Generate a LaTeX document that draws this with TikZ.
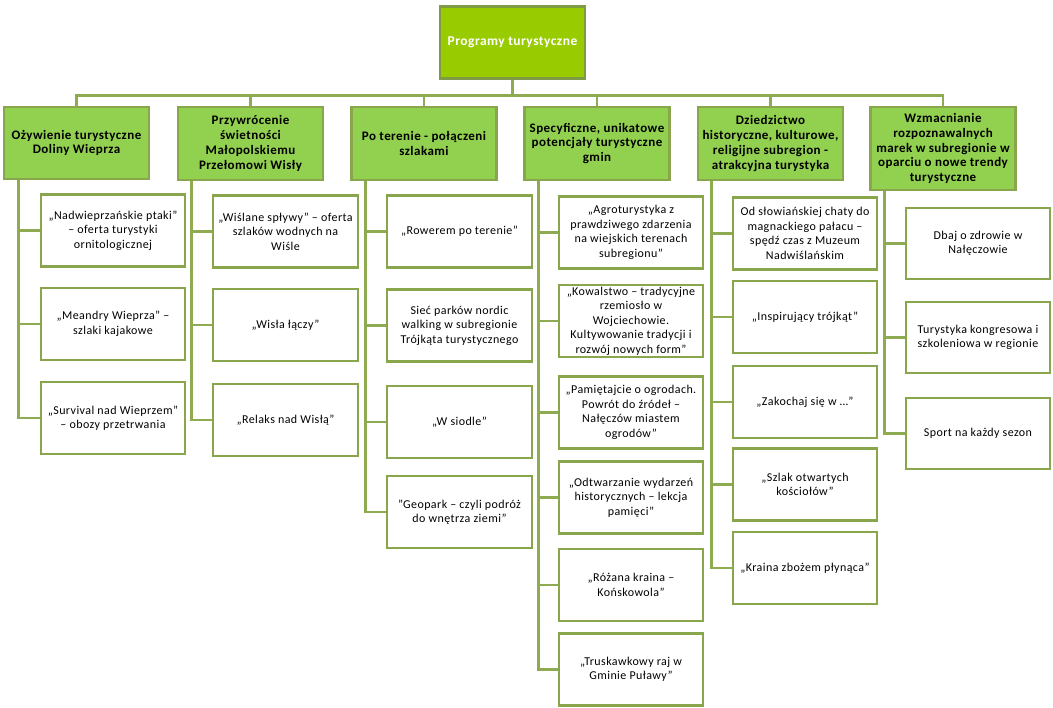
\documentclass[tikz,border=0pt]{standalone}
\usepackage{fontspec}
\setmainfont{Carlito}[LetterSpace=3.5]
\definecolor{rootfill}{HTML}{99CC00}
\definecolor{catfill}{HTML}{92D050}
\definecolor{bordc}{HTML}{8AA64C}
\definecolor{rootbord}{HTML}{7F9B45}
\definecolor{linec}{HTML}{8FAB52}
\tikzset{
  rootbox/.style={draw=rootbord, fill=rootfill, line width=2.8pt, text=white,
    font=\bfseries\fontsize{13.5}{15}\selectfont, minimum width=145pt, minimum height=72pt, inner sep=2pt, align=center},
  catbox/.style={draw=bordc, fill=catfill, line width=2.8pt, text=black,
    font=\bfseries\fontsize{13}{14.8}\selectfont, minimum width=145pt, minimum height=73pt, inner sep=1pt, align=center},
  itembox/.style={draw=bordc, fill=white, line width=2.8pt, text=black,
    font=\fontsize{12}{14.5}\selectfont, minimum width=144pt, minimum height=72pt, inner sep=1pt, align=center},
  conn/.style={draw=linec, line width=2.8pt}
}
\begin{document}
\begin{tikzpicture}[x=1pt,y=-1pt]
\useasboundingbox (0,0) rectangle (1053,708);
% root
\node[rootbox] (root) at (512.5,42.5) {Programy turystyczne};
% categories
\node[catbox, minimum height=72pt] (k1) at (76.5,143) {Ożywienie turystyczne\\Doliny Wieprza};
\node[catbox] (k2) at (250.5,143.5) {Przywrócenie\\świetności\\Małopolskiemu\\Przełomowi Wisły};
\node[catbox] (k3) at (424,143.5) {Po terenie - połączeni\\szlakami};
\node[catbox] (k4) at (597,143.5) {Specyficzne, unikatowe\\potencjały turystyczne\\gmin};
\node[catbox] (k5) at (770.5,143.5) {Dziedzictwo\\historyczne, kulturowe,\\religijne subregion -\\atrakcyjna turystyka};
\node[catbox, minimum height=83pt] (k6) at (943,148.5) {Wzmacnianie\\rozpoznawalnych\\marek w subregionie w\\oparciu o nowe trendy\\turystyczne};
\foreach \k in {k1,k2,k3,k4,k5,k6}{
  \draw[conn] (root.south) -- ++(0,16) -| (\k.north);
}
% column 1
\node[itembox] (a1) at (113,230.5) {„Nadwieprzańskie ptaki”\\– oferta turystyki\\ornitologicznej};
\node[itembox] (a2) at (113,324) {„Meandry Wieprza” –\\szlaki kajakowe};
\node[itembox] (a3) at (113,418) {„Survival nad Wieprzem”\\– obozy przetrwania};
% column 2
\node[itembox, minimum width=145pt] (b1) at (285.5,231.5) {„Wiślane spływy” – oferta\\szlaków wodnych na\\Wiśle};
\node[itembox, minimum width=145pt] (b2) at (285.5,325) {„Wisła łączy”};
\node[itembox, minimum width=145pt] (b3) at (285.5,420) {„Relaks nad Wisłą”};
% column 3
\node[itembox, minimum width=145pt] (c1) at (459.5,231.5) {„Rowerem po terenie”};
\node[itembox, minimum width=145pt] (c2) at (459.5,325.5) {Sieć parków nordic\\walking w subregionie\\Trójkąta turystycznego};
\node[itembox, minimum width=145pt] (c3) at (459.5,422) {„W siodle”};
\node[itembox, minimum width=145pt] (c4) at (459.5,512) {"Geopark – czyli podróż\\do wnętrza ziemi"};
% column 4
\node[itembox] (d1) at (631,232.5) {„Agroturystyka z\\prawdziwego zdarzenia\\na wiejskich terenach\\subregionu”};
\node[itembox] (d2) at (631,321) {„Kowalstwo – tradycyjne\\rzemiosło w\\Wojciechowie.\\Kultywowanie tradycji i\\rozwój nowych form”};
\node[itembox] (d3) at (631,412.5) {„Pamiętajcie o ogrodach.\\Powrót do źródeł –\\Nałęczów miastem\\ogrodów”};
\node[itembox] (d4) at (631,497.5) {„Odtwarzanie wydarzeń\\historycznych – lekcja\\pamięci”};
\node[itembox] (d5) at (631,585) {„Różana kraina –\\Końskowola”};
\node[itembox] (d6) at (631,669.5) {„Truskawkowy raj w\\Gminie Puławy”};
% column 5
\node[itembox] (e1) at (805,233.5) {Od słowiańskiej chaty do\\magnackiego pałacu –\\spędź czas z Muzeum\\Nadwiślańskim};
\node[itembox] (e2) at (805,317) {„Inspirujący trójkąt”};
\node[itembox] (e3) at (805,402) {„Zakochaj się w …"};
\node[itembox] (e4) at (805,484.5) {„Szlak otwartych\\kościołów”};
\node[itembox] (e5) at (805,568) {„Kraina zbożem płynąca”};
% column 6
\node[itembox, minimum height=71pt] (f1) at (978,243.5) {Dbaj o zdrowie w\\Nałęczowie};
\node[itembox, minimum height=71pt] (f2) at (978,337.5) {Turystyka kongresowa i\\szkoleniowa w regionie};
\node[itembox, minimum height=71pt] (f3) at (978,433.5) {Sport na każdy sezon};
% connectors
\foreach \n in {a1,a2,a3}{\draw[conn] (\n.west) -| ([xshift=16pt]k1.south west);}
\foreach \n in {b1,b2,b3}{\draw[conn] (\n.west) -| ([xshift=15pt]k2.south west);}
\foreach \n in {c1,c2,c3,c4}{\draw[conn] (\n.west) -| ([xshift=15pt]k3.south west);}
\foreach \n in {d1,d2,d3,d4,d5,d6}{\draw[conn] (\n.west) -| ([xshift=15pt]k4.south west);}
\foreach \n in {e1,e2,e3,e4,e5}{\draw[conn] (\n.west) -| ([xshift=15pt]k5.south west);}
\foreach \n in {f1,f2,f3}{\draw[conn] (\n.west) -| ([xshift=15pt]k6.south west);}
\end{tikzpicture}
\end{document}
